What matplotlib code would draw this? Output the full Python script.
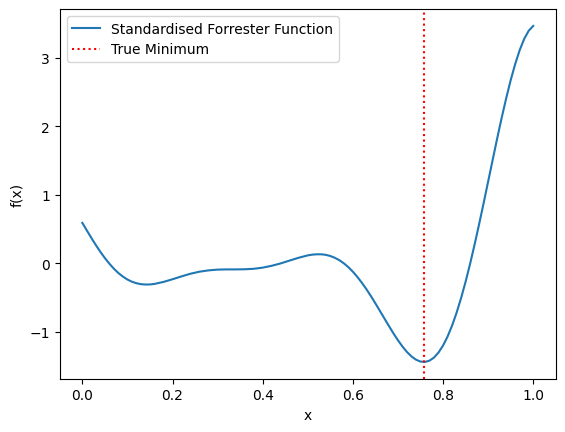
import numpy as np
import matplotlib
matplotlib.use("Agg")
import matplotlib.pyplot as plt

# values (standardised Forrester function)
x_vals = [0.00, 0.01, 0.02, 0.03, 0.04, 0.05, 0.06, 0.07, 0.08, 0.09,
          0.10, 0.11, 0.12, 0.13, 0.14, 0.15, 0.16, 0.18,
          0.20, 0.22, 0.24, 0.26, 0.28, 0.30, 0.32, 0.34, 0.36, 0.38,
          0.40, 0.42, 0.44, 0.46, 0.48, 0.50, 0.51, 0.52, 0.53, 0.54,
          0.55, 0.56, 0.57, 0.58, 0.59, 0.60, 0.61, 0.62, 0.63, 0.64,
          0.65, 0.66, 0.67, 0.68, 0.69, 0.70, 0.71, 0.72, 0.73, 0.74,
          0.75, 0.76, 0.77, 0.78, 0.79, 0.80, 0.81, 0.82, 0.83, 0.84,
          0.85, 0.86, 0.87, 0.88, 0.89, 0.90, 0.91, 0.92, 0.93, 0.94,
          0.95, 0.96, 0.97, 0.98, 0.99, 1.00]
f_vals = [0.590, 0.479, 0.370, 0.265, 0.166, 0.075, -0.007, -0.081, -0.144, -0.196,
          -0.239, -0.271, -0.293, -0.307, -0.312, -0.311, -0.303, -0.274,
          -0.235, -0.193, -0.154, -0.124, -0.105, -0.094, -0.091, -0.091, -0.089, -0.082,
          -0.065, -0.038, -0.003, 0.039, 0.080, 0.114, 0.125, 0.130, 0.130, 0.122,
          0.105, 0.079, 0.044, -0.002, -0.058, -0.125, -0.201, -0.287, -0.380, -0.481,
          -0.588, -0.698, -0.809, -0.919, -1.027, -1.127, -1.219, -1.299, -1.364, -1.411,
          -1.439, -1.444, -1.425, -1.380, -1.306, -1.204, -1.073, -0.913, -0.725, -0.510,
          -0.271, -0.008, 0.274, 0.571, 0.879, 1.194, 1.510, 1.823, 2.126, 2.411,
          2.677, 2.913, 3.117, 3.281, 3.400, 3.470]
x_min = 0.757

fig, ax = plt.subplots(figsize=(6.4, 4.8), dpi=100)

ax.plot(x_vals, f_vals, label='Standardised Forrester Function')
ax.axvline(x_min, color='red', linestyle=':', label='True Minimum')

ax.set_xlabel('x')
ax.set_ylabel('f(x)')
ax.legend(loc='upper left')

plt.savefig('out.png', bbox_inches='tight')
